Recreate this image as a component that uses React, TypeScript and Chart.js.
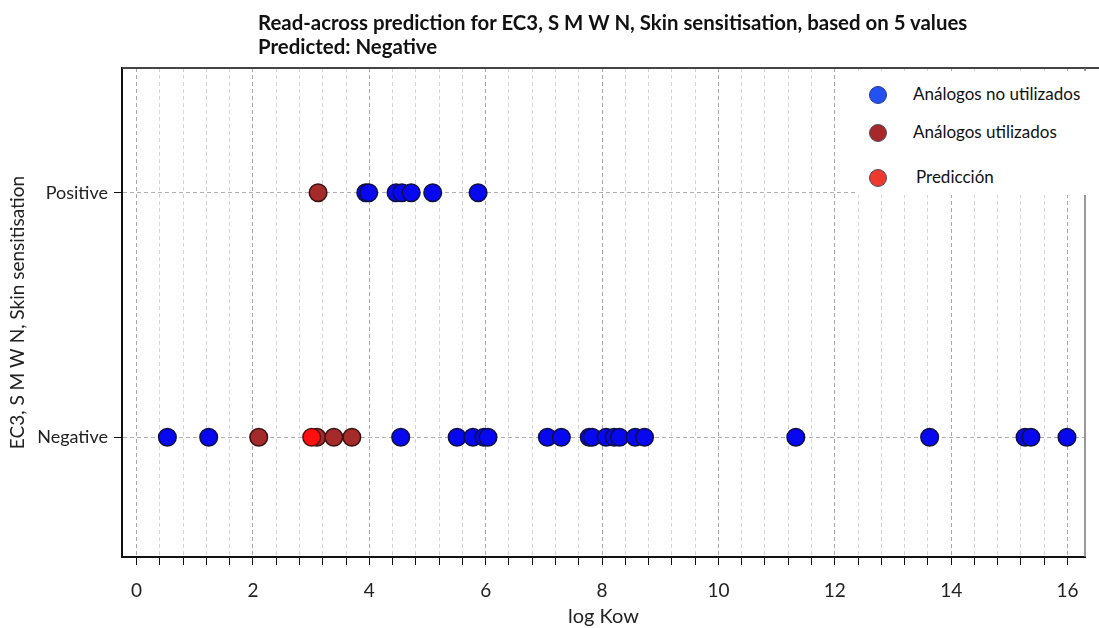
import React, { useEffect, useRef } from "react";
import { Chart, registerables } from "chart.js";

Chart.register(...registerables);

const classLabels = ["Negative", "Positive"];
const xTickStep = 0.4;
const xMax = 16.3;
const xMin = -0.25;

const notUsedPositive = [3.94, 3.99, 4.46, 4.56, 4.72, 5.09, 5.87];
const notUsedNegative = [0.53, 1.24, 4.54, 5.51, 5.78, 5.97, 6.04, 7.06, 7.3, 7.78, 7.83, 8.07, 8.21, 8.3, 8.57, 8.73, 11.33, 13.63, 15.27, 15.37, 15.99];
const usedPositive = [3.12];
const usedNegative = [2.1, 3.1, 3.39, 3.7];
const predictedX = [3.01];
const predictedClass = ["Negative"];

const titleLines = [
  "Read-across prediction for EC3, S M W N, Skin sensitisation, based on 5 values",
  "Predicted: Negative",
];
const legendItems = [
  { label: "Análogos no utilizados", color: "#2350f0", border: "#2a3a8a" },
  { label: "Análogos utilizados", color: "#a8282a", border: "#4a4e6a" },
  { label: "Predicción", color: "#ee3a2e", border: "#4a4e6a" },
];

const FONT = "Lato";

const toPoints = (xs: number[], cls: string) =>
  xs.map((x) => ({ x, y: classLabels.indexOf(cls) }));

const framePlugin = {
  id: "frame",
  afterDraw(chart: any) {
    const { ctx, chartArea } = chart;
    ctx.save();
    ctx.strokeStyle = "#444";
    ctx.lineWidth = 2;
    ctx.beginPath();
    ctx.moveTo(chartArea.left, chartArea.top);
    ctx.lineTo(chart.width, chartArea.top);
    ctx.stroke();
    ctx.strokeStyle = "#777";
    ctx.lineWidth = 1.5;
    ctx.beginPath();
    ctx.moveTo(chartArea.right, chartArea.top);
    ctx.lineTo(chartArea.right, chartArea.bottom);
    ctx.stroke();
    ctx.restore();
  },
};

const isMajor = (v: number) => Math.abs(v / 2 - Math.round(v / 2)) < 1e-6;

export default function App() {
  const ref = useRef<HTMLCanvasElement | null>(null);
  useEffect(() => {
    if (!ref.current) return;
    const common = { pointRadius: 8.8, pointHoverRadius: 8.8, borderWidth: 1.5, showLine: false };
    const chart = new Chart(ref.current, {
      type: "scatter",
      data: {
        datasets: [
          {
            label: "Predicción",
            data: toPoints(predictedX, predictedClass[0]),
            backgroundColor: "#ff1010",
            borderColor: "#5a1010",
            ...common,
          },
          {
            label: "Análogos utilizados",
            data: [...toPoints(usedPositive, "Positive"), ...toPoints(usedNegative, "Negative")],
            backgroundColor: "#a52a2a",
            borderColor: "#3a1010",
            ...common,
          },
          {
            label: "Análogos no utilizados",
            data: [...toPoints(notUsedPositive, "Positive"), ...toPoints(notUsedNegative, "Negative")],
            backgroundColor: "#0808f0",
            borderColor: "#101040",
            ...common,
          },
        ],
      },
      options: {
        responsive: false,
        animation: false,
        layout: { padding: { top: 68, right: 14, left: 0, bottom: 0 } },
        plugins: { legend: { display: false }, tooltip: { enabled: false }, title: { display: false } },
        scales: {
          x: {
            type: "linear",
            min: xMin,
            max: xMax,
            afterBuildTicks: (scale: any) => {
              const t = [];
              for (let i = 0; i * xTickStep <= xMax; i++) t.push({ value: Math.round(i * xTickStep * 10) / 10 });
              scale.ticks = t;
            },
            afterFit: (scale: any) => {
              scale.height = 71;
            },
            ticks: {
              autoSkip: false,
              maxRotation: 0,
              padding: 14,
              color: "#222",
              font: { family: FONT, size: 19 },
              callback: (v: any) => (isMajor(Number(v)) ? String(Math.round(Number(v))) : ""),
            },
            grid: {
              color: (c: any) => (c.tick && isMajor(c.tick.value) ? "#a8a8a8" : "#d4d4d4"),
              lineWidth: 1,
              tickColor: "#111",
              tickLength: 8,
            },
            border: { display: true, color: "#111", width: 2, dash: [4, 3] },
            title: {
              display: true,
              text: "log Kow",
              color: "#222",
              font: { family: FONT, size: 20 },
              padding: { top: 0, bottom: -1 },
            },
          },
          y: {
            type: "linear",
            min: -0.49,
            max: 1.51,
            afterBuildTicks: (scale: any) => {
              scale.ticks = classLabels.map((_, i) => ({ value: i }));
            },
            afterFit: (scale: any) => {
              scale.width = 122;
            },
            ticks: {
              padding: 6,
              color: "#222",
              font: { family: FONT, size: 18 },
              callback: (v: any) => classLabels[Number(v)] ?? "",
            },
            grid: { color: "#b0b0b0", tickColor: "#111", tickLength: 8 },
            border: { display: true, color: "#111", width: 2, dash: [4, 3] },
            title: {
              display: true,
              text: "EC3, S M W N, Skin sensitisation",
              color: "#222",
              font: { family: FONT, size: 19 },
              padding: { top: 6, bottom: 0 },
            },
          },
        },
      },
      plugins: [framePlugin],
    } as any);
    return () => chart.destroy();
  }, []);

  return (
    <div style={{ position: "absolute", left: 0, top: 0, width: 1099, height: 628, background: "#fff" }}>
      <canvas ref={ref} width={1099} height={628} style={{ position: "absolute", left: 0, top: 0 }} />
      <div
        style={{
          position: "absolute",
          left: 258,
          top: 10,
          fontFamily: FONT,
          fontWeight: "bold",
          fontSize: 20.4,
          lineHeight: "24px",
          color: "#111",
          whiteSpace: "nowrap",
        }}
      >
        {titleLines.map((t) => (
          <div key={t}>{t}</div>
        ))}
      </div>
      <div
        style={{
          position: "absolute",
          left: 858,
          top: 71,
          width: 241,
          height: 124,
          background: "#fff",
          fontFamily: FONT,
          fontSize: 17,
          color: "#111",
        }}
      >
        {legendItems.map((it, i) => {
          const cy = [24, 62, 107][i];
          const tx = [55, 55, 58][i];
          return (
            <React.Fragment key={it.label}>
              <div
                style={{
                  position: "absolute",
                  left: 20 - 9,
                  top: cy - 9,
                  width: 16,
                  height: 16,
                  borderRadius: "50%",
                  background: it.color,
                  border: `1.5px solid ${it.border}`,
                }}
              />
              <div style={{ position: "absolute", left: tx, top: cy - 11, lineHeight: "20px", whiteSpace: "nowrap" }}>
                {it.label}
              </div>
            </React.Fragment>
          );
        })}
      </div>
    </div>
  );
}
